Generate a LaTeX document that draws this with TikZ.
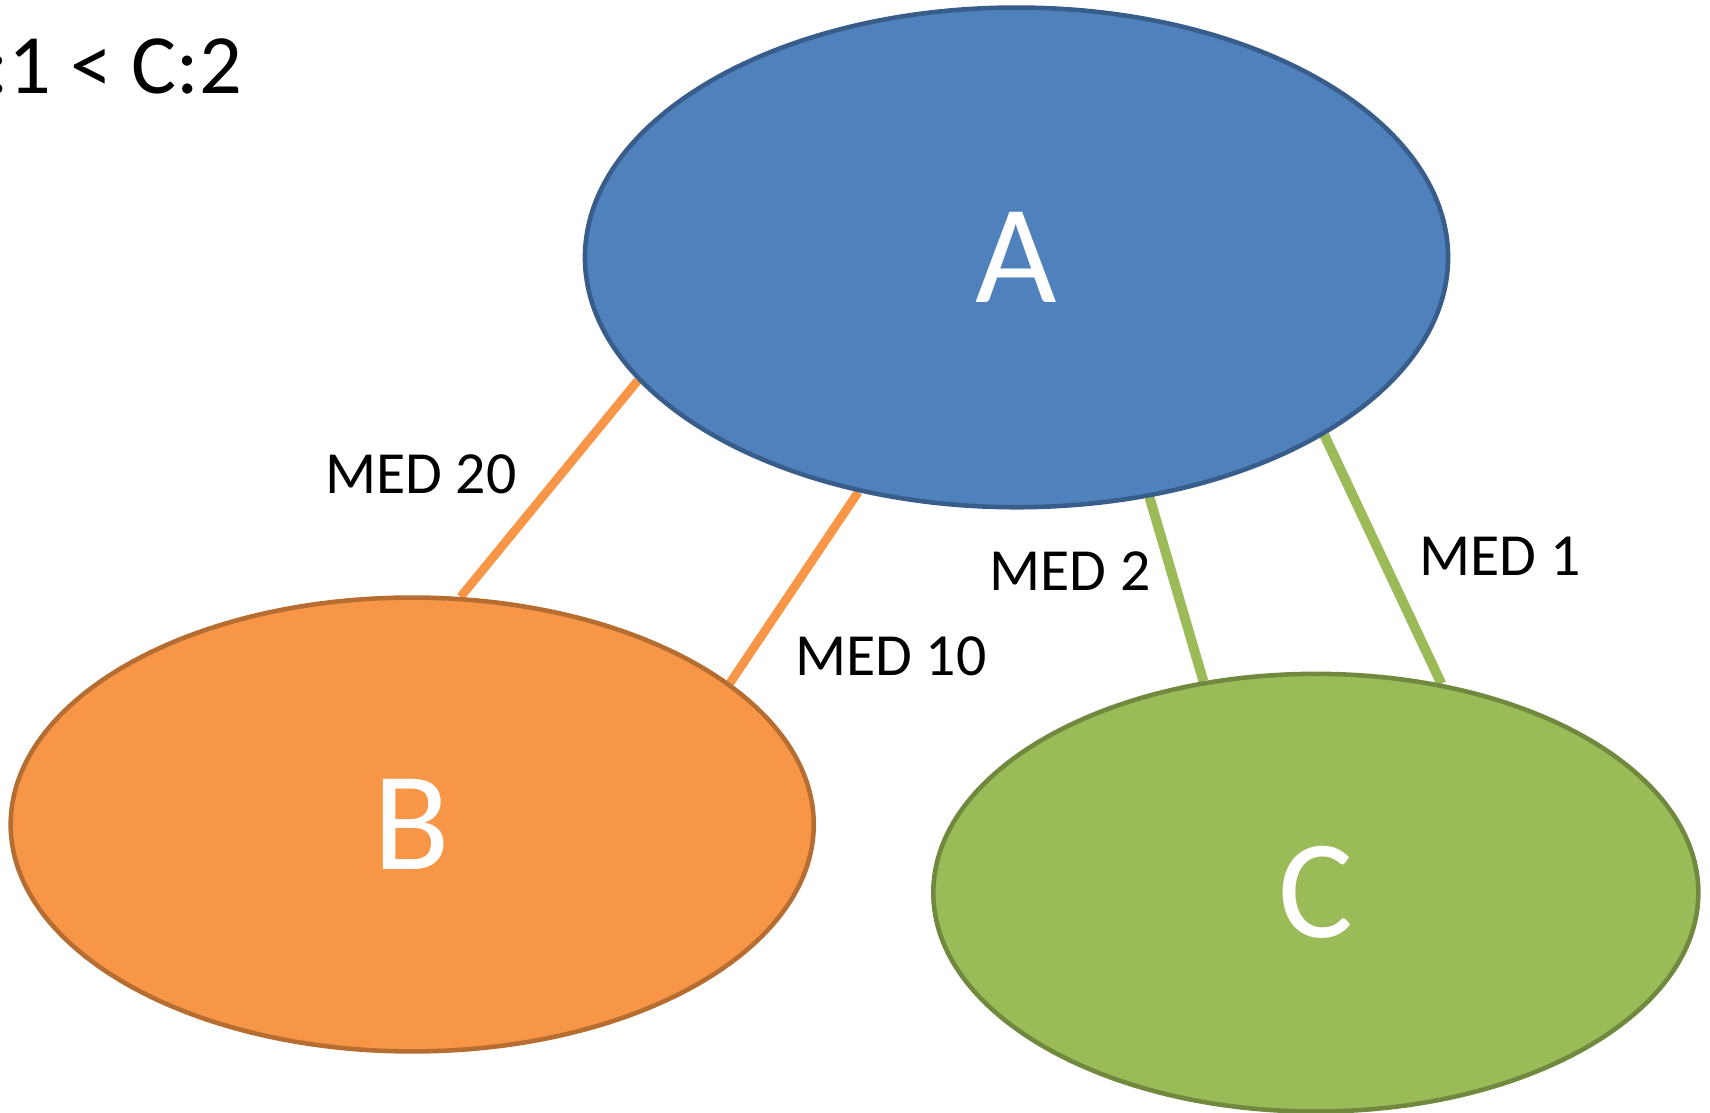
\documentclass[tikz,border=0pt]{standalone}
\usepackage{fontspec}
\setmainfont{Carlito}
\usetikzlibrary{shapes.geometric,backgrounds}
\definecolor{aFill}{HTML}{4F81BD}
\definecolor{aLine}{HTML}{385D8A}
\definecolor{bFill}{HTML}{F79646}
\definecolor{bLine}{HTML}{B66D31}
\definecolor{cFill}{HTML}{9BBB59}
\definecolor{cLine}{HTML}{71893F}
\tikzset{
  blob/.style={ellipse, inner sep=0pt, line width=1.3pt, text=white, font=\fontsize{40}{48}\selectfont},
  medlabel/.style={font=\fontsize{17}{20}\selectfont, text=black, inner sep=0pt},
  orangelink/.style={draw=bFill, line width=2.5pt},
  greenlink/.style={draw=cFill, line width=2.8pt},
}
\begin{document}
\begin{tikzpicture}[x=0.01cm, y=-0.01cm]
\useasboundingbox (0,0) rectangle (1710,1113);
\node[blob, fill=aFill, draw=aLine, minimum width=8.626cm, minimum height=4.994cm] (A) at (1016.5,257.4) {A};
\node[blob, fill=bFill, draw=bLine, minimum width=8.026cm, minimum height=4.536cm] (B) at (412.2,824.5) {B};
\node[blob, fill=cFill, draw=cLine, minimum width=7.646cm, minimum height=4.374cm] (C) at (1315.8,892.7) {C};
\begin{scope}[on background layer]
\draw[orangelink] (A.198.5) -- (B.78.6);
\draw[orangelink] (A.236.3) -- (B.24.0);
\draw[greenlink] (A.299.5) -- (C.118.0);
\draw[greenlink] (A.330.7) -- (C.59.66);
\end{scope}
\node[medlabel] (l20) at (421,474) {MED 20};
\node[medlabel] (l10) at (891,656) {MED 10};
\node[medlabel] (l2) at (1070,571) {MED 2};
\node[medlabel] (l1) at (1500,556) {MED 1};
\node[font=\fontsize{24}{28}\selectfont, inner sep=0pt, anchor=base east] (title) at (243,94) {:1 < C:2};
\end{tikzpicture}
\end{document}
